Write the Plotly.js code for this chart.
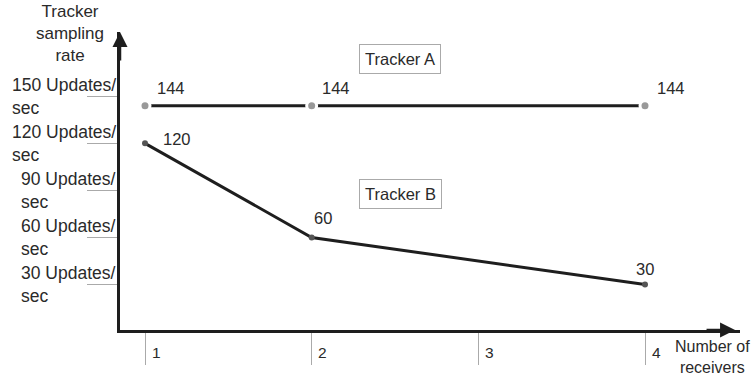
<!DOCTYPE html>
<html>
<head>
<meta charset="utf-8">
<script src="https://cdn.plot.ly/plotly-3.0.1.min.js"></script>
<style>html,body{margin:0;padding:0;background:#fff;}#chart{width:754px;height:376px;}</style>
</head>
<body>
<div id="chart"></div>
<script>
// ---- data ----
const receivers = [1, 2, 4];
const trackerA = [144, 144, 144];
const trackerB = [120, 60, 30];
const yTickVals = [30, 60, 90, 120, 150];
const yTickLabels = ['30 Updates/<br>sec', '60 Updates/<br>sec', '90 Updates/<br>sec', '120 Updates/<br>sec', '150 Updates/<br>sec'];
const xTickVals = [1, 2, 3, 4];
const xTickLabels = ['1', '2', '3', '4'];
const seriesNames = ['Tracker A', 'Tracker B'];
const yTitle = 'Tracker<br>sampling<br>rate';
const xTitle = 'Number of<br>receivers';

// ---- styles ----
const FONT = 'Liberation Sans, Arial, sans-serif';
const TXT = '#2a2a2a';
const LINE = '#1e1e1e';

const traces = [
  {
    x: receivers, y: trackerA, mode: 'lines+markers', name: seriesNames[0],
    line: {color: LINE, width: 3},
    marker: {size: 10, color: '#999', line: {color: '#fff', width: 3}},
    hoverinfo: 'skip'
  },
  {
    x: receivers, y: trackerB, mode: 'lines+markers', name: seriesNames[1],
    line: {color: LINE, width: 3},
    marker: {size: 6, color: '#555'},
    hoverinfo: 'skip'
  }
];

const annotations = [];
// y tick labels
yTickVals.forEach((v, i) => {
  annotations.push({
    xref: 'paper', yref: 'y', x: -0.003, y: v, xanchor: 'right', yanchor: 'middle',
    align: 'left', text: yTickLabels[i], showarrow: false,
    font: {family: FONT, size: 17.5, color: TXT}
  });
});
// x tick labels
xTickVals.forEach((v, i) => {
  annotations.push({
    xref: 'x', yref: 'paper', x: v, y: -0.074, xanchor: 'center', yanchor: 'middle',
    xshift: 11, text: xTickLabels[i], showarrow: false,
    font: {family: FONT, size: 15.5, color: TXT}
  });
});
// value labels
const aShift = [[26, 18], [24, 18], [26, 18]];
receivers.forEach((x, i) => {
  annotations.push({
    x: x, y: trackerA[i], text: String(trackerA[i]), showarrow: false,
    xshift: aShift[i][0], yshift: aShift[i][1],
    font: {family: FONT, size: 16.5, color: TXT}
  });
});
const bShift = [[32, 4], [11, 19], [0, 16]];
receivers.forEach((x, i) => {
  annotations.push({
    x: x, y: trackerB[i], text: String(trackerB[i]), showarrow: false,
    xshift: bShift[i][0], yshift: bShift[i][1],
    font: {family: FONT, size: 16.5, color: TXT}
  });
});
// series boxes
annotations.push({
  x: 2.527, y: 174, text: seriesNames[0], showarrow: false,
  bordercolor: '#aaa', borderwidth: 1, borderpad: 5, bgcolor: '#fff',
  font: {family: FONT, size: 16.5, color: TXT}
});
annotations.push({
  x: 2.535, y: 87.8, text: seriesNames[1], showarrow: false,
  bordercolor: '#aaa', borderwidth: 1, borderpad: 5, bgcolor: '#fff',
  font: {family: FONT, size: 16.5, color: TXT}
});
// axis titles
annotations.push({
  xref: 'paper', yref: 'paper', x: -0.081, y: 0.995, xanchor: 'center', yanchor: 'middle',
  text: yTitle, showarrow: false, align: 'center',
  font: {family: FONT, size: 17, color: TXT}
});
annotations.push({
  xref: 'paper', yref: 'paper', x: 0.955, y: -0.09, xanchor: 'center', yanchor: 'middle',
  text: xTitle, showarrow: false, align: 'center',
  font: {family: FONT, size: 16, color: TXT}
});
// axis arrows
annotations.push({
  xref: 'paper', yref: 'paper', x: 0, y: 1, ax: 0, ay: 30, axref: 'pixel', ayref: 'pixel',
  text: '', showarrow: true, arrowhead: 2, arrowsize: 1.2, arrowwidth: 2.5, arrowcolor: LINE
});
annotations.push({
  xref: 'paper', yref: 'paper', x: 0.992, y: 0, ax: -30, ay: 0,
  text: '', showarrow: true, arrowhead: 2, arrowsize: 1.2, arrowwidth: 2.5, arrowcolor: LINE
});

const layout = {
  width: 754, height: 376,
  margin: {l: 120, r: 14, t: 32, b: 46},
  paper_bgcolor: '#fff', plot_bgcolor: '#fff',
  showlegend: false,
  xaxis: {
    range: [0.85, 4.57], showgrid: false, zeroline: false,
    showline: true, linecolor: LINE, linewidth: 3,
    tickvals: xTickVals, ticks: 'outside', ticklen: 32, tickwidth: 1, tickcolor: '#aaa',
    showticklabels: false, fixedrange: true
  },
  yaxis: {
    range: [1, 191], showgrid: false, zeroline: false,
    showline: true, linecolor: LINE, linewidth: 3,
    tickvals: yTickVals, ticks: 'outside', ticklen: 30, tickwidth: 1, tickcolor: '#aaa',
    showticklabels: false, fixedrange: true
  },
  annotations: annotations
};

Plotly.newPlot('chart', traces, layout, {displayModeBar: false, staticPlot: true});
</script>
</body>
</html>
